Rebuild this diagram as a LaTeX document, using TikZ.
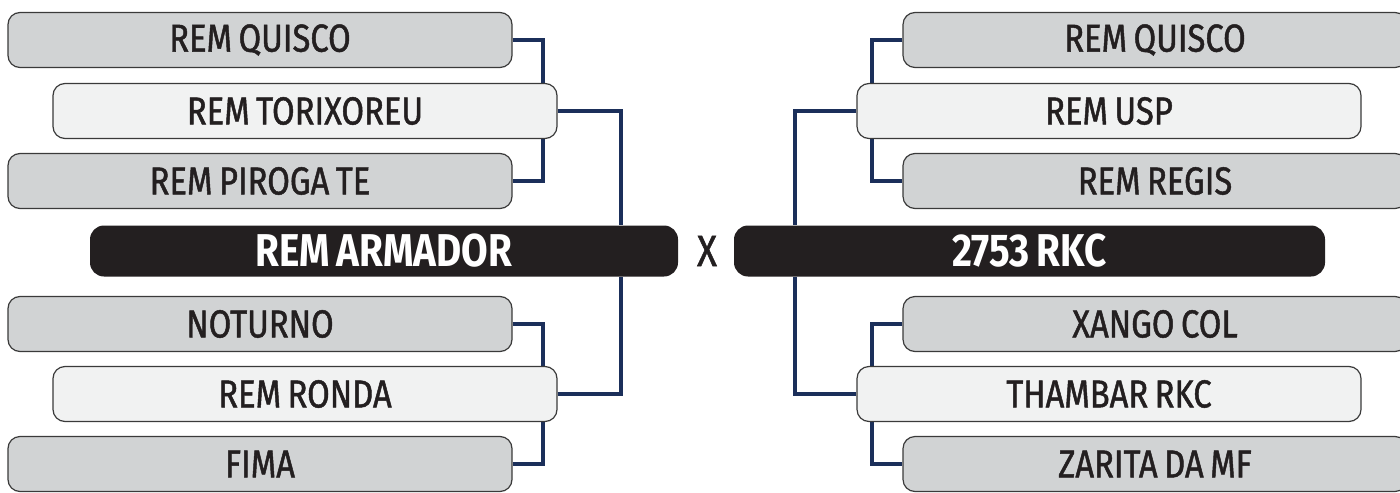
\documentclass[tikz,border=0pt]{standalone}
\usepackage{fontspec}
\setmainfont{Fira Sans}[FakeStretch=0.84,WordSpace=0.75]
\usepackage{tikz}
\usetikzlibrary{backgrounds}
\definecolor{navy}{HTML}{1B2F5A}
\definecolor{teamgray}{HTML}{D1D3D4}
\definecolor{seedgray}{HTML}{F1F2F2}
\definecolor{boxline}{HTML}{3A3A3A}
\definecolor{darkbox}{HTML}{231F20}

\begin{document}
\begin{tikzpicture}[
      x=0.5pt, y=-0.5pt,
      team/.style={draw=boxline,line width=0.6pt,fill=teamgray,rounded corners=6pt,
                   minimum width=252pt,minimum height=27.5pt,inner sep=0pt,
                   font=\fontsize{19.5}{19.5}\selectfont\addfontfeature{FakeBold=1.2},text=darkbox},
      seed/.style={team,fill=seedgray},
      finalist/.style={fill=darkbox,rounded corners=7pt,minimum height=25.5pt,inner sep=0pt,
                   font=\fontsize{23}{23}\selectfont\bfseries,text=white},
      link/.style={navy,line width=2.1pt}
    ]
    \useasboundingbox (0,0) rectangle (1400,492);
    % Left half of the bracket.
    \node[team] (lquisco)  at (260,40)  {REM QUISCO};
    \node[seed] (ltorix)   at (305,111) {REM TORIXOREU};
    \node[team] (lpiroga)  at (260,181) {REM PIROGA TE};
    \node[finalist,minimum width=294pt] (armador) at (384,251) {REM ARMADOR};
    \node[team] (lnoturno) at (260,324) {NOTURNO};
    \node[seed] (lronda)   at (305,394) {REM RONDA};
    \node[team] (lfima)    at (260,464) {FIMA};
    % The versus mark.
    \node[font=\fontsize{22}{22}\selectfont\addfontfeature{FakeBold=1.2},text=darkbox] (versus) at (707,251) {X};
    % Right half of the bracket.
    \node[team] (rquisco)  at (1155,40)  {REM QUISCO};
    \node[seed] (rusp)     at (1109,111) {REM USP};
    \node[team] (rregis)   at (1155,181) {REM REGIS};
    \node[finalist,minimum width=295.5pt] (rkc) at (1029.5,251) {2753 RKC};
    \node[team] (rxango)   at (1155,324) {XANGO COL};
    \node[seed] (rthambar) at (1109,394) {THAMBAR RKC};
    \node[team] (rzarita)  at (1155,464) {ZARITA DA MF};
    % Draw the connectors behind the boxes.
    \begin{scope}[on background layer]
      \coordinate (lbar) at (543,0);
      \coordinate (lmain) at (621,0);
      \coordinate (rbar) at (872,0);
      \coordinate (rmain) at (795,0);
      \draw[link] (lquisco.east) -| (lbar |- ltorix.center) |- (lpiroga.east);
      \draw[link] (lnoturno.east) -| (lbar |- lronda.center) |- (lfima.east);
      \draw[link] (ltorix.east) -| (lmain |- armador.north);
      \draw[link] (lronda.east) -| (lmain |- armador.south);
      \draw[link] (rquisco.west) -| (rbar |- rusp.center) |- (rregis.west);
      \draw[link] (rxango.west) -| (rbar |- rthambar.center) |- (rzarita.west);
      \draw[link] (rusp.west) -| (rmain |- rkc.north);
      \draw[link] (rthambar.west) -| (rmain |- rkc.south);
    \end{scope}
\end{tikzpicture}
\end{document}
